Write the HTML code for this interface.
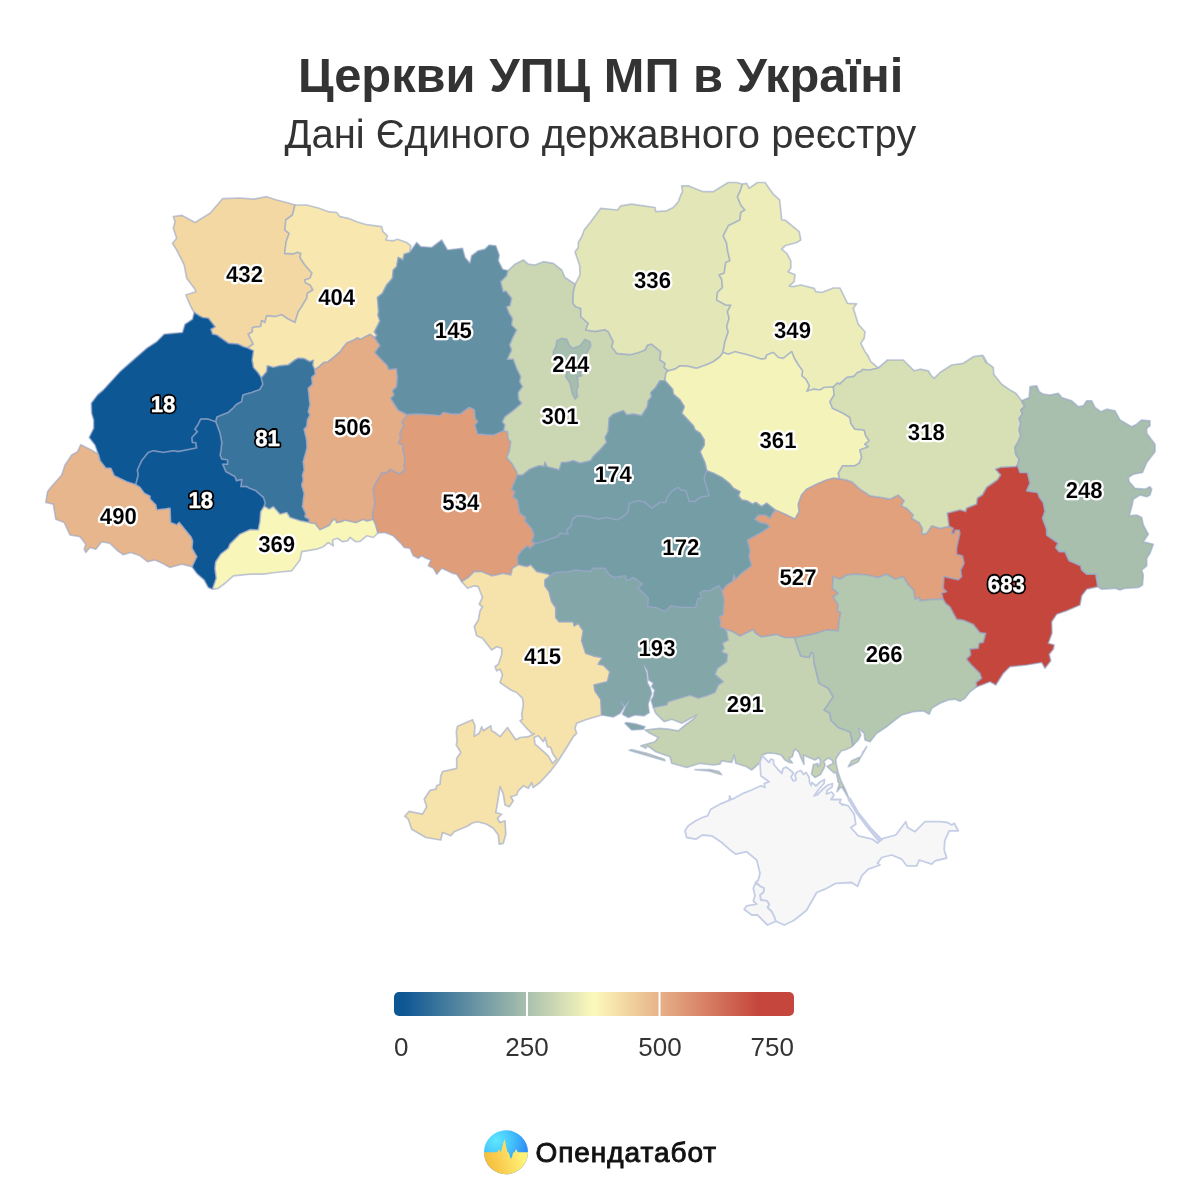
<!DOCTYPE html>
<html lang="uk"><head><meta charset="utf-8"><title>Церкви УПЦ МП в Україні</title>
<style>
html,body{margin:0;padding:0;background:#fff}
body{width:1200px;height:1200px;position:relative;overflow:hidden;font-family:"Liberation Sans",Arial,sans-serif;color:#333}
.t1{font:700 48.8px "Liberation Sans",Arial,sans-serif;fill:#333;text-anchor:middle}
.t2{font:400 40px "Liberation Sans",Arial,sans-serif;fill:#333;text-anchor:middle}
svg{position:absolute;left:0;top:0}
.rg path{stroke:#96a5c8;stroke-opacity:.6;stroke-width:1.7;stroke-linejoin:round}
.cr path{fill:#f7f7f8;stroke:#c5cee6;stroke-width:1.8;stroke-linejoin:round}
.lh,.lb{font:700 23px "Liberation Sans",Arial,sans-serif;text-rendering:geometricPrecision;text-anchor:middle;stroke-linejoin:round}
.lh{fill:#fff;stroke:#fff;stroke-width:4.5px}
.lh.w{fill:#000;stroke:#000;stroke-width:4.2px}
.lb{fill:#000;stroke:#fff;stroke-width:.1px}
.lb.w{fill:#fff;stroke:#fff;stroke-width:.4px}
.lg text{font:400 26px "Liberation Sans",Arial,sans-serif;fill:#333}
.brand{font:400 28px "Liberation Sans",Arial,sans-serif;fill:#111;stroke:#111;stroke-width:.9px;letter-spacing:.95px}
</style></head><body>
<svg width="1200" height="1200" viewBox="0 0 1200 1200">
<defs>
<linearGradient id="g" x1="0" x2="1" y1="0" y2="0">
<stop offset="0" stop-color="#0e5795"/><stop offset="0.024" stop-color="#0e5795"/><stop offset="0.5" stop-color="#fdf9bb"/><stop offset="0.911" stop-color="#c5463c"/><stop offset="1" stop-color="#c5463c"/>
</linearGradient>
<radialGradient id="lg1" gradientUnits="userSpaceOnUse" cx="496" cy="1140.5" r="32"><stop offset="0" stop-color="#5fe8fe"/><stop offset=".5" stop-color="#45c2fb"/><stop offset="1" stop-color="#2d8df5"/></radialGradient>
<linearGradient id="lg2" gradientUnits="userSpaceOnUse" x1="490" y1="1172" x2="524" y2="1160"><stop offset="0" stop-color="#f6bd3c"/><stop offset=".5" stop-color="#fbd65a"/><stop offset="1" stop-color="#fff278"/></linearGradient>
<clipPath id="cc"><circle cx="506" cy="1152.25" r="22"/></clipPath>
</defs>
<text class="t1" x="600.6" y="92">Церкви УПЦ МП в Україні</text>
<text class="t2" x="600.3" y="147.5">Дані Єдиного державного реєстру</text>
<g class="rg">
<path d="M173.3,216.7L181.7,215.3L195,222.5L210,213.3L215,207.5L222.5,198.7L240,198L253.3,199.2L266.7,196.7L276.7,200L286.7,202.5L295,205L292.5,215L285.8,220L285,230L289.2,233.3L286.2,241.7L284.7,253.3L293.3,253.8L297.5,252.2L300.8,253.3L300,257.5L305,265L312,273L310,278.3L304.7,280L305.8,283L310,284.7L313,290L307.5,293.3L306.7,298.3L301.7,306.7L298.3,311.7L295,322.5L288.3,319.2L281.7,314.7L275,316.7L266.7,315.8L265,322.5L261.7,320.8L260.8,326.3L252.5,327.5L252.5,331.7L248.3,334.2L253.3,344.2L247.5,348L243.3,346.7L238.3,344.2L228.3,343.3L216.7,335L212.5,334.2L210.8,329.2L215,326.7L208.3,318.3L202.5,317.5L199.2,315.8L194.2,312.5L190.8,306.7L185.8,295L195.8,291.7L195,289.2L186.7,278.3L184.2,265L176.7,250L172.5,243.3L176.7,238.3L173.3,228.3L175,221.7Z" fill="#f3d8a3"/>
<path d="M295,205L306.7,205L318.3,208L328.3,211.7L336.7,212.5L340,216.7L348.3,218.3L356.7,221.7L366.7,224.7L381.7,226.7L383,231.7L387.5,235.8L385.8,240L393.3,240.8L397.5,239.2L406.7,242.5L410.8,245.8L409.7,252.5L404.2,254.2L403,260L398.3,257.5L396.7,266.7L393.3,270L392.5,278.3L386.7,285L382.5,293.3L377.5,297.5L378.7,311.7L378,315L380,321L377,327L374.5,332L377,335L375,338L370,334.5L366,336.5L360.5,339.5L357.5,338L354,340L347,343L344,346.5L340,352L333,358L328,362L324,362.5L319,367L314.7,369.7L312.5,365L313.3,360.3L310,361.7L304.2,358.7L298.3,358.3L295,360L288.3,365L280,365.8L273.3,367.5L267.5,365.8L266.7,371.7L261.3,378L258.3,373.3L253.3,367.5L252,360L253.3,350.8L247.5,348L253.3,344.2L248.3,334.2L252.5,331.7L252.5,327.5L260.8,326.3L261.7,320.8L265,322.5L266.7,315.8L275,316.7L281.7,314.7L288.3,319.2L295,322.5L298.3,311.7L301.7,306.7L306.7,298.3L307.5,293.3L313,290L310,284.7L305.8,283L304.7,280L310,278.3L312,273L305,265L300,257.5L300.8,253.3L297.5,252.2L293.3,253.8L284.7,253.3L286.2,241.7L289.2,233.3L285,230L285.8,220L292.5,215Z" fill="#f8e8af"/>
<path d="M194.2,312.5L192.5,319.2L185,324.2L182.5,332.5L173.3,333.3L164.2,334.2L156.7,341.7L146.7,348.3L133.3,360L120,371.7L103.3,390L97.5,395L91.3,403.3L91.7,413.3L93.7,420L93.7,428.3L89.2,437.5L95,445L98.3,454.2L100,460.8L105.8,468.3L110.8,468.3L114.2,475.8L126.7,481.7L135.8,484.7L138.3,475L137.5,470L141.7,460.8L148.3,452.5L153.3,450.8L163.3,452.5L173.3,450.8L178.3,451.7L196.7,448L195.8,442.5L192.5,442.5L192,437.5L197.5,431.7L195,429.2L198.3,424.2L200.8,419.2L208.3,419.2L215.8,422L217,417L228.3,412.5L233,408.3L236.7,404.2L241.7,401.7L243,395L251.7,392.5L259.7,389.7L263,384.2L261.3,378L258.3,373.3L253.3,367.5L252,360L253.3,350.8L247.5,348L243.3,346.7L238.3,344.2L228.3,343.3L216.7,335L212.5,334.2L210.8,329.2L215,326.7L208.3,318.3L202.5,317.5L199.2,315.8Z" fill="#0e5795"/>
<path d="M261.3,378L266.7,371.7L267.5,365.8L273.3,367.5L280,365.8L288.3,365L295,360L298.3,358.3L304.2,358.7L310,361.7L313.3,360.3L312.5,365L314.7,369.7L315.3,374.2L311.7,377.5L312.5,384.2L308.3,388.3L309.2,396.7L310,405L308.3,411.7L310,415L307.5,420L306.7,426.7L304.2,429.2L306.7,440L307,448.3L303.3,461.7L304.2,470L302.5,475L303.3,480L301.7,485L304.2,493.3L302.5,506.7L305.8,513.3L305,516.7L309.2,519.2L309.2,522.5L300,520.8L290,517.5L286.7,512.5L280,514.2L273.3,506.7L269.2,509.2L264.2,506.3L265,502.5L263.3,497.5L255.8,490.8L249.2,488.3L246.7,486.7L240.8,486.7L241.7,479.7L236.3,480.8L235,476.7L225.8,471.7L222.5,464.2L227.5,464.2L227.5,460L221.7,459.2L220,455L220.8,450.8L221.7,442.5L220,433.3L215.8,422L217,417L228.3,412.5L233,408.3L236.7,404.2L241.7,401.7L243,395L251.7,392.5L259.7,389.7L263,384.2Z" fill="#38749c"/>
<path d="M135.8,484.7L138.3,475L137.5,470L141.7,460.8L148.3,452.5L153.3,450.8L163.3,452.5L173.3,450.8L178.3,451.7L196.7,448L195.8,442.5L192.5,442.5L192,437.5L197.5,431.7L195,429.2L198.3,424.2L200.8,419.2L208.3,419.2L215.8,422L220,433.3L221.7,442.5L220.8,450.8L220,455L221.7,459.2L227.5,460L227.5,464.2L222.5,464.2L225.8,471.7L235,476.7L236.3,480.8L241.7,479.7L240.8,486.7L246.7,486.7L249.2,488.3L255.8,490.8L263.3,497.5L265,502.5L264.2,506.3L260.8,511.7L260,521.7L258.3,530L250,529.7L240,534.2L230,544.2L228.3,548.3L220.8,554.2L215.8,561.7L215,568.3L216.3,578.3L212.5,589.2L208.3,587.5L204.2,580L196.7,573.3L192,566.7L196.7,556.7L192,548.3L192.5,540.8L190.8,536.7L186.7,531.7L179.2,522.5L176.7,525L170.5,522.5L170,508.3L156.7,510L155.8,505L150,499.2L150,496.3L144.2,493.3L140,487.5Z" fill="#0e5795"/>
<path d="M98.3,454.2L90,449.2L80.8,444.7L77.5,451.7L71.7,455L65,465L61.7,475L50,488.3L47.5,491.7L45.8,502.5L53.3,504.2L55.8,519.2L64.2,522.5L70,535L80,536.7L85.8,544.2L84.2,549.2L85.8,552.5L90,547.5L95.8,549.2L101.7,541.7L110,543.3L116.7,550L123.3,554.7L130.8,552.5L140,555.8L147.5,561.7L155,560L163.3,563.7L170,567.5L181.7,564.2L192,566.7L196.7,556.7L192,548.3L192.5,540.8L190.8,536.7L186.7,531.7L179.2,522.5L176.7,525L170.5,522.5L170,508.3L156.7,510L155.8,505L150,499.2L150,496.3L144.2,493.3L140,487.5L135.8,484.7L126.7,481.7L114.2,475.8L110.8,468.3L105.8,468.3L100,460.8Z" fill="#e8b68c"/>
<path d="M309.2,522.5L315,523.3L320,529.5L329.2,525.3L332.5,520L335.8,519.2L336.7,522.5L340.8,521.7L345,520L355.8,522.5L363.3,519.2L366.7,520.8L373.3,519.2L375.8,525L378,533L373.3,537.5L366.7,535.8L360,541.3L355.8,541.7L350,537.5L347.5,540.8L342.5,541.7L337.5,538.3L332.5,540L333.3,545.8L328.3,542.5L323.3,546.7L316.7,549.2L301.7,551.7L300,560L291.7,570.8L275,572.5L263.3,574.2L250,574.2L233.3,575.8L225,583.3L218.3,588.3L212.5,589.2L216.3,578.3L215,568.3L215.8,561.7L220.8,554.2L228.3,548.3L230,544.2L240,534.2L250,529.7L258.3,530L260,521.7L260.8,511.7L264.2,506.3L269.2,509.2L273.3,506.7L280,514.2L286.7,512.5L290,517.5L300,520.8Z" fill="#f9f6ba"/>
<path d="M314.7,369.7L319,367L324,362.5L328,362L333,358L340,352L344,346.5L347,343L354,340L357.5,338L360.5,339.5L366,336.5L370,334.5L375,338L380,345.5L375,352.5L381,359L387,365L389,369.5L396.5,368.5L397.5,376.7L396.7,386.7L392.5,390.8L394.2,395L390.8,398.3L395,405L398.3,410L407.5,414.7L401.7,422.5L404.2,425L400,433.3L400.8,438.3L398.7,443.3L403.3,445L403,450L405,457.5L404.2,465L405,470L399.2,474.2L390,469.2L386.7,473.3L382.5,472.5L376.7,481.7L373.3,488.3L375,503.3L372.5,515L373.3,519.2L366.7,520.8L363.3,519.2L355.8,522.5L345,520L340.8,521.7L336.7,522.5L335.8,519.2L332.5,520L329.2,525.3L320,529.5L315,523.3L309.2,522.5L309.2,519.2L305,516.7L305.8,513.3L302.5,506.7L304.2,493.3L301.7,485L303.3,480L302.5,475L304.2,470L303.3,461.7L307,448.3L306.7,440L304.2,429.2L306.7,426.7L307.5,420L310,415L308.3,411.7L310,405L309.2,396.7L308.3,388.3L312.5,384.2L311.7,377.5L315.3,374.2Z" fill="#e5ad85"/>
<path d="M409.7,252.5L416.7,242.5L420.8,246.7L431.7,247.5L441.7,240L447.5,250L462.5,248.3L465,257.5L470,263.3L471.7,255.8L478.3,250.8L485,249.2L489.2,245L495.8,245.8L499.2,255L498.3,260.8L502.5,269.2L508,270.8L506.7,275.8L500.8,281.7L503.3,291.7L505.8,290.8L511.7,298.3L510,305.8L506.7,306.7L509.2,313.3L512.5,318.3L511.7,325L516.7,330L513.3,336.7L509.7,345L511.7,350L507.5,359.2L513.3,359.2L516.7,368.3L520.8,376.7L519.7,381.7L522.5,386.7L518.3,392.5L518.7,399.2L521.7,403.3L515,409.2L505,416.7L502.5,421.7L505,425L503.7,430.8L493.3,435.3L477.5,434.2L474.7,425L477.5,421.7L475,418.3L474.2,409.7L469.2,407.5L460,414.2L451.7,414.2L443.3,412.5L440,415.8L433.3,415L418.3,414.2L407.5,414.7L398.3,410L395,405L390.8,398.3L394.2,395L392.5,390.8L396.7,386.7L397.5,376.7L396.5,368.5L389,369.5L387,365L381,359L375,352.5L380,345.5L375,338L377,335L374.5,332L377,327L380,321L378,315L378.7,311.7L377.5,297.5L382.5,293.3L386.7,285L392.5,278.3L393.3,270L396.7,266.7L398.3,257.5L403,260L404.2,254.2Z" fill="#6391a3"/>
<path d="M407.5,414.7L418.3,414.2L433.3,415L440,415.8L443.3,412.5L451.7,414.2L460,414.2L469.2,407.5L474.2,409.7L475,418.3L477.5,421.7L474.7,425L477.5,434.2L493.3,435.3L503.7,430.8L507.5,431.7L508.3,439.2L510.8,441.7L509.2,451.7L506.7,457.5L511.7,463.3L516.7,471.7L517.5,475.3L511.7,489.2L515,491.7L513.3,496.7L517.5,500L520,513.3L525.8,517.5L525,520.8L531.7,528.3L534.2,535L531.7,541.7L535.8,543L530,548.3L527.5,545.8L521.7,550.8L517.5,556.7L518.3,564.7L512.5,568.3L510.8,575L503.3,573.3L496.7,575L491.7,575.8L481.7,571.7L474.2,571.7L469.2,576.7L461.7,581.7L456.7,574.2L452.5,573.3L441.7,568.3L436.7,574.2L433.3,568.3L428.3,565.8L430.8,560L425.8,558.3L421.7,555.8L418.3,558.3L413.3,555.8L410,548.3L404.2,547.5L400.8,543.3L393.3,535.8L385,532.5L378,533L375.8,525L373.3,519.2L372.5,515L375,503.3L373.3,488.3L376.7,481.7L382.5,472.5L386.7,473.3L390,469.2L399.2,474.2L405,470L404.2,465L405,457.5L403,450L403.3,445L398.7,443.3L400.8,438.3L400,433.3L404.2,425L401.7,422.5Z" fill="#e09d79"/>
<path d="M508,270.8L515,264.2L523.3,260L528.3,264.2L535,265L543.3,261.7L553.3,263.3L561.7,270L565,277.5L575.3,284.2L573.3,292.5L573,303.3L575.8,306.7L580.8,308.3L580.8,316.7L588.3,323.3L585.8,330L595,331.3L605,329.7L608.3,331.7L613.3,341.7L611.7,346.7L616.7,353.3L630,354.7L638.3,352.5L645,350L647.5,345L651.7,344.2L660.8,351.7L660,360L665,363.3L664.2,367.5L668.3,370.8L665.8,373.3L665,380.8L660,380.8L655.8,387.5L650.8,392.5L651.7,396.7L648.3,400.8L647.5,406.7L641.7,415.8L633.3,414.2L626.7,415L623.3,410.8L613.3,414.2L609.2,418.3L608.3,431.7L605.3,437.5L606.7,442.5L600,450L593.3,456.7L590.8,460.8L580,463.3L573.3,460.8L566.7,462.5L561.7,462.5L559.2,470L546.7,466.7L545,462.5L544.2,466.7L539.2,465.8L530,469.2L522.5,475.3L517.5,475.3L516.7,471.7L511.7,463.3L506.7,457.5L509.2,451.7L510.8,441.7L508.3,439.2L507.5,431.7L503.7,430.8L505,425L502.5,421.7L505,416.7L515,409.2L521.7,403.3L518.7,399.2L518.3,392.5L522.5,386.7L519.7,381.7L520.8,376.7L516.7,368.3L513.3,359.2L507.5,359.2L511.7,350L509.7,345L513.3,336.7L516.7,330L511.7,325L512.5,318.3L509.2,313.3L506.7,306.7L510,305.8L511.7,298.3L505.8,290.8L503.3,291.7L500.8,281.7L506.7,275.8Z" fill="#cbd7b3"/>
<path d="M556.7,340.8L561.7,338.3L566.7,339.2L569.2,345L572.5,348.3L580,345.8L585,339.2L590,341.7L590.8,345.8L586.7,353.3L583.3,361.7L582.5,368.3L580,373.3L581.7,375.8L577.5,376.7L578.3,386.7L576.7,390L577.5,396.7L575,399.2L572.5,394.2L570,383.3L565.8,376.7L566.7,373.3L560,368.3L553.3,356.7L553.3,351.7L555.8,346.7Z" fill="#a5bead"/>
<path d="M575.3,284.2L580,275L579.7,265.8L575,251.7L578.3,247.5L578.3,242.5L581.7,236.7L584.2,230L590.8,221.7L595.8,215L600.8,208.3L617.5,210L620.8,205.8L631.7,204.2L643.3,205.8L655,207.5L655.8,211.7L666.7,210.8L673.3,207.5L678.3,201.7L680.8,195L682.5,191.7L681.7,185.8L688.3,185.8L696.7,189.2L703.3,191.7L713.3,191.7L720,187.5L728.3,182.5L736.7,182.5L742.5,184.2L740,191.7L737.5,196.7L740.8,205L745,210L740.8,212.5L740,220L728.3,225.8L723.3,235.8L726.7,243.3L727.5,250L730,260.8L725.8,262.5L724.2,273.3L719.2,275L721.7,279.2L722.5,287.5L717.5,292.5L716.7,300L725.8,305L730.8,305L727.5,311.7L729.2,318.3L726.7,326.7L728.3,331.7L725,341.7L723,352.5L720,356.7L713.3,361.7L706.7,364.7L696.7,368.3L688.3,366.3L680,365.8L675,369.2L668.3,370.8L664.2,367.5L665,363.3L660,360L660.8,351.7L651.7,344.2L647.5,345L645,350L638.3,352.5L630,354.7L616.7,353.3L611.7,346.7L613.3,341.7L608.3,331.7L605,329.7L595,331.3L585.8,330L588.3,323.3L580.8,316.7L580.8,308.3L575.8,306.7L573,303.3L573.3,292.5Z" fill="#e3e7b7"/>
<path d="M742.5,184.2L746.7,183.3L749.2,188.3L757.5,182.5L765,182.5L773.3,194.2L779.7,200L781.7,220L785,220L799.2,231.7L800.8,240L796.7,242.5L785,245.8L781.7,249.2L786.7,253.3L790.8,260.8L790.8,268.3L788,271.7L795,274.7L794.2,281.7L789.2,285.8L793.3,286.7L800.8,285L814.2,288.3L815.8,291.7L821.7,292.5L833.3,288L840,288L844.2,296.7L847.5,303.3L856.7,303.8L853.3,308.3L858.3,324.2L865,331.7L864.2,338.3L860.8,343.3L865,351.7L867.5,355L870.8,361.7L878.3,368L870,370L862.5,369.5L860.8,371.7L857.5,372.5L854.2,376.3L846.7,377.5L839.7,384.2L837.5,383L833.3,387L824.2,387.5L820,390L813.3,389.2L806.7,391.3L809.2,385.8L805.8,379.2L801.7,375.8L802.5,370.8L798.3,365L794.2,358.3L791.7,351.7L783.3,358.3L778.3,357.5L773.3,352.5L766.7,355L765.8,358.3L761.7,359.2L748.3,355L735,351.7L728.3,354.2L723,352.5L725,341.7L728.3,331.7L726.7,326.7L729.2,318.3L727.5,311.7L730.8,305L725.8,305L716.7,300L717.5,292.5L722.5,287.5L721.7,279.2L719.2,275L724.2,273.3L725.8,262.5L730,260.8L727.5,250L726.7,243.3L723.3,235.8L728.3,225.8L740,220L740.8,212.5L745,210L740.8,205L737.5,196.7L740,191.7Z" fill="#ecedb8"/>
<path d="M723,352.5L728.3,354.2L735,351.7L748.3,355L761.7,359.2L765.8,358.3L766.7,355L773.3,352.5L778.3,357.5L783.3,358.3L791.7,351.7L794.2,358.3L798.3,365L802.5,370.8L801.7,375.8L805.8,379.2L809.2,385.8L806.7,391.3L813.3,389.2L820,390L824.2,387.5L833.3,387L834.2,395L830,401.7L832.5,408.3L843.3,413.3L850,417.5L850.8,423.3L855,429.2L864.2,430L865.8,435.8L869.2,440.8L865,444.2L868.3,446.7L860,450L861.7,457.5L859.2,463.3L855,465.8L842.5,465.8L838.3,473.3L839.7,478.8L833.3,478.3L826.7,480L816.7,484.2L806.7,489.2L801.7,495L798.3,504.2L799.2,511.7L795,519.2L785,514.2L775,510L766.7,503.3L761.7,506.7L755.8,502.5L752.5,504.2L746.7,500.8L741.7,500L738.3,495.8L740,491.7L733.3,488.3L729.2,483.3L721.7,477.5L713.3,473.3L706.7,470.8L705,463.3L700,451.7L704.2,445L704.2,440L700,433.3L695,430L693.3,425.8L681.7,413.3L684.2,406.7L680,400L673.3,394.2L672.5,389.2L665,380.8L665.8,373.3L668.3,370.8L675,369.2L680,365.8L688.3,366.3L696.7,368.3L706.7,364.7L713.3,361.7L720,356.7Z" fill="#f4f3ba"/>
<path d="M665,380.8L660,380.8L655.8,387.5L650.8,392.5L651.7,396.7L648.3,400.8L647.5,406.7L641.7,415.8L633.3,414.2L626.7,415L623.3,410.8L613.3,414.2L609.2,418.3L608.3,431.7L605.3,437.5L606.7,442.5L600,450L593.3,456.7L590.8,460.8L580,463.3L573.3,460.8L566.7,462.5L561.7,462.5L559.2,470L546.7,466.7L545,462.5L544.2,466.7L539.2,465.8L530,469.2L522.5,475.3L517.5,475.3L511.7,489.2L515,491.7L513.3,496.7L517.5,500L520,513.3L525.8,517.5L525,520.8L531.7,528.3L534.2,535L531.7,541.7L535.8,543L537.5,543.3L545,540.8L557.5,536.7L560,533.3L568.3,534.2L566.7,530L570.8,526.7L572.5,519.2L577.5,515.8L588.3,516.7L598.3,519.2L606.7,517.5L616.7,520L623.3,516.7L628.3,511.7L629.2,503.3L638.3,500.8L645,502.5L651.7,508.3L660,502.5L665.8,502.5L667.5,496.7L672.5,490.8L678.3,487.5L680.8,490L685.8,490.8L689.2,501.7L695,501.7L700,497.5L709.2,495.8L706.7,486.7L704.2,478.3L706.7,470.8L705,463.3L700,451.7L704.2,445L704.2,440L700,433.3L695,430L693.3,425.8L681.7,413.3L684.2,406.7L680,400L673.3,394.2L672.5,389.2Z" fill="#769ea6"/>
<path d="M706.7,470.8L704.2,478.3L706.7,486.7L709.2,495.8L700,497.5L695,501.7L689.2,501.7L685.8,490.8L680.8,490L678.3,487.5L672.5,490.8L667.5,496.7L665.8,502.5L660,502.5L651.7,508.3L645,502.5L638.3,500.8L629.2,503.3L628.3,511.7L623.3,516.7L616.7,520L606.7,517.5L598.3,519.2L588.3,516.7L577.5,515.8L572.5,519.2L570.8,526.7L566.7,530L568.3,534.2L560,533.3L557.5,536.7L545,540.8L537.5,543.3L535.8,543L530,548.3L527.5,545.8L521.7,550.8L517.5,556.7L518.3,564.7L526.7,566.7L530.8,565L536.7,571.7L548.3,574.2L550,576.3L555,572.5L570,571.7L575,570L590,571.7L593.3,568.3L605,568.3L609.2,575L615,577.5L625,575.8L626.7,580.8L633.3,577.5L642.5,584.2L637.5,587.5L644.2,594.2L648.3,598.3L647.5,606.7L655.8,607.5L665,611.7L670.8,605.8L681.7,607.5L695.8,607.5L697,601.7L698.3,598.3L701.7,598.3L700,593.3L703.3,590.8L710,590.8L716.7,586.7L719.2,585.8L722,591.3L726.7,585L732.5,581.7L734.2,575L735,580L741.7,573.3L751.7,565.8L749.2,557.5L750,550L747.5,540L760,533.3L770,526.7L766.7,523.7L760,522.5L755,519.2L758.3,515.3L765,515L770,518.3L775,510L766.7,503.3L761.7,506.7L755.8,502.5L752.5,504.2L746.7,500.8L741.7,500L738.3,495.8L740,491.7L733.3,488.3L729.2,483.3L721.7,477.5L713.3,473.3Z" fill="#759da5"/>
<path d="M518.3,564.7L526.7,566.7L530.8,565L536.7,571.7L548.3,574.2L550,576.3L545,580L545,585.8L549.2,591.7L551.7,601.7L555.8,607.5L555.8,617.5L559.2,621.7L573.3,621.7L574.2,625.8L578.3,623.3L583.3,630.8L581.7,640.8L585.8,653.3L593.3,655.8L602.5,657.5L598.3,664.2L603.3,665L610,671.7L607.5,681.7L594.2,685L595,690.8L600.8,699.2L601.7,715L593.3,717.5L585,720L576.7,723.3L575,728.3L576.7,733.3L573.3,736.7L566.7,747.5L558.3,760.8L550,771.7L540,782.5L533,787.5L531.7,782.5L528.3,788.3L523.3,785.8L518.3,790.8L516.7,795L510.8,796.7L513.3,800.8L509.2,806.7L505,805L503.3,794.2L500,786.7L497.5,803.3L495.8,812.5L501.7,814.2L497.5,818.3L500,822.5L505,820.8L505.8,834.2L503.3,843.3L499.2,844.2L498.3,835L493.3,828.3L486.7,824.2L477.5,821.7L471.7,823.3L468.3,825.8L454.2,831.7L450.8,835.8L442.5,832.5L440.8,840L425.8,837.5L411.7,829.2L408.3,819.2L404.7,816.2L409.2,811.3L422.5,814.2L426.7,806.7L424.2,799.2L430,790.3L435.8,789.2L436.7,785.8L440,784.2L440.8,775.8L442.5,771.7L456.7,768.3L456.7,758.3L460.8,752.5L456.3,745L457,740.8L456.3,731.7L457.5,726.3L472.5,719.7L475,725.8L474.2,736.3L479.2,733.3L481.7,726.7L483.3,730.8L490.8,725.8L491.7,730.8L495,732.5L500,736.7L507.5,727.5L515.8,739.7L520,737.5L528.3,736.7L534.2,733.7L531.7,733.3L526.7,728.3L520,720.8L522.5,719.2L521.7,715L523.3,704.2L522.5,698.3L516.7,692.5L510.8,690L500,682.5L502.5,675L500,669.2L496.7,670.8L495,666.7L498.3,664.2L501.7,654.2L501.7,648.3L496.7,646.7L491.7,650L482.5,638.3L476.7,635.8L474.2,626.7L478.3,620L480,610.8L482.5,606.7L479.2,604.2L482.5,597.5L478.3,586.7L474.2,585.8L467.5,588.3L461.7,581.7L469.2,576.7L474.2,571.7L481.7,571.7L491.7,575.8L496.7,575L503.3,573.3L510.8,575L512.5,568.3Z" fill="#f6e2ab"/>
<path d="M550,576.3L555,572.5L570,571.7L575,570L590,571.7L593.3,568.3L605,568.3L609.2,575L615,577.5L625,575.8L626.7,580.8L633.3,577.5L642.5,584.2L637.5,587.5L644.2,594.2L648.3,598.3L647.5,606.7L655.8,607.5L665,611.7L670.8,605.8L681.7,607.5L695.8,607.5L697,601.7L698.3,598.3L701.7,598.3L700,593.3L703.3,590.8L710,590.8L716.7,586.7L719.2,585.8L722,591.3L724.2,600L723.3,615L719.2,616.7L720.8,621.7L720,626.7L724.7,628.8L726.7,631.7L728.3,640L722.5,643.3L724.2,648.3L721.7,651.7L727.5,654.2L726.7,661.7L717.5,668.3L715,674.2L723.3,681.7L718.3,685L715,692.5L706.7,695.8L698.3,698.3L690,695.3L680,698.3L668.3,701.7L666.7,705L653.3,707.5L651.2,700.3L653.3,696.7L654.7,690L651.7,686.7L653.3,683L648.7,680L647.5,670.8L643.7,665L646.7,673.3L647.5,683.3L650,687.5L651.7,693.3L648,704.2L649.2,712.5L644.2,715.8L635,715L628.3,717.5L622.5,714.2L625.8,706.7L629.7,700.3L625,706.7L620.5,701.3L624.2,706.7L620,713.3L613.3,717L601.7,715L600.8,699.2L595,690.8L594.2,685L607.5,681.7L610,671.7L603.3,665L598.3,664.2L602.5,657.5L593.3,655.8L585.8,653.3L581.7,640.8L583.3,630.8L578.3,623.3L574.2,625.8L573.3,621.7L559.2,621.7L555.8,617.5L555.8,607.5L551.7,601.7L549.2,591.7L545,585.8L545,580Z" fill="#83a6a8"/>
<path d="M724.7,628.8L733.3,631.7L740,635.8L753.3,629.2L755.8,633.3L761.7,636.7L776.7,634.2L785,637.5L794.7,637.5L797.5,646.7L800.8,655.8L809.2,657.5L810.8,652.5L813.3,653.3L814.2,663.3L816.7,673.3L819.2,683.3L828.3,688.3L833.3,696.7L830,701.7L824.2,710L830,713.3L830.8,720L838.3,727.5L850,731.7L851.7,738.3L853,745.5L851.5,747L845,750L841,751L835.8,759L836,763L838,772L841,781L845.5,790L849,799L842,787L840,788L837,791.5L839.5,783.5L838,782L837.5,778L836,772L834,773L827,766.5L833,763.5L832.5,760.5L828.5,758L824,761L825,765L824,768L820.5,774.5L815,777.5L811.5,774L813.5,764.5L818,763.5L817.5,766.5L820,765L820.5,761L819,757.5L815,760L808,757L803.5,755L804,764.5L801,758L799,752.5L795.5,749L793.5,752L792.5,756.5L789,758.5L792.5,763L789.5,762.5L785,760L781,755L775,753.5L768,753L762,755L760,762.5L751.7,770L746.7,766.7L735.8,763.3L734.2,755L731.7,762.5L721.7,760.8L720,764.2L713.3,765L700,763.3L686.7,767.5L671.7,763.3L670,756.7L655.8,751.7L647.5,745.8L645.8,748.3L640.8,745.8L655,741.7L658.3,737.5L650,733.3L645,730L660,728.3L668.3,729.2L678.3,730.8L684.2,725.8L693.3,719.2L696.7,715L681.7,723.3L671.7,719.2L664.2,721.7L655.8,713.3L653.3,707.5L666.7,705L668.3,701.7L680,698.3L690,695.3L698.3,698.3L706.7,695.8L715,692.5L718.3,685L723.3,681.7L715,674.2L717.5,668.3L726.7,661.7L727.5,654.2L721.7,651.7L724.2,648.3L722.5,643.3L728.3,640L726.7,631.7Z" fill="#c5d3b2"/>
<path d="M775,510L785,514.2L795,519.2L799.2,511.7L798.3,504.2L801.7,495L806.7,489.2L816.7,484.2L826.7,480L833.3,478.3L839.7,478.8L846.7,480L851.7,481.7L860,489.2L870,495.8L881.7,497.5L890,499.2L898.3,495L904.2,500.8L901.3,505.8L906.7,508.3L913.3,515L911.7,518.3L919.2,522.5L922.5,528.3L921.7,534.2L926.7,533.3L931.7,525.8L940,528.3L949.2,526.3L953.3,528.3L951.7,533.3L954.2,533.3L955,530L959.2,530L960,533.3L956.7,548.3L956.7,554.2L962.5,555.8L964.2,563.3L960.8,570L961.7,576.7L958.3,580L944.2,576.7L943.3,588.3L946.7,591.7L941.7,593.3L943.3,599.2L930,599.7L920,600.8L919.2,597.5L915,599.2L913.3,590L908.3,585L903.3,576.7L895,579.2L886.7,574.2L878.3,577.5L866.7,575L856.7,574.2L846.7,575L840,579.2L833.3,576.7L832.5,588.3L838.3,593.3L833.3,596.7L838.3,605L837.5,610.8L840.8,612.5L839.2,620L838.3,630.8L826.7,630L813.3,634.2L796.7,637.5L794.7,637.5L785,637.5L776.7,634.2L761.7,636.7L755.8,633.3L753.3,629.2L740,635.8L733.3,631.7L724.7,628.8L720,626.7L720.8,621.7L719.2,616.7L723.3,615L724.2,600L722,591.3L726.7,585L732.5,581.7L734.2,575L735,580L741.7,573.3L751.7,565.8L749.2,557.5L750,550L747.5,540L760,533.3L770,526.7L766.7,523.7L760,522.5L755,519.2L758.3,515.3L765,515L770,518.3Z" fill="#e1a17c"/>
<path d="M794.7,637.5L796.7,637.5L813.3,634.2L826.7,630L838.3,630.8L839.2,620L840.8,612.5L837.5,610.8L838.3,605L833.3,596.7L838.3,593.3L832.5,588.3L833.3,576.7L840,579.2L846.7,575L856.7,574.2L866.7,575L878.3,577.5L886.7,574.2L895,579.2L903.3,576.7L908.3,585L913.3,590L915,599.2L919.2,597.5L920,600.8L930,599.7L943.3,599.2L945.8,603.3L950,606.7L956.7,619.2L963.3,620L973.3,624.2L980,632.5L985.8,633.3L983.3,642.5L979.2,643.3L978.3,648.3L970,649.2L970.8,655L966.7,659.2L971.7,665L980,673.3L981.7,678.3L976.3,682.5L976.7,686.7L970,691.7L965,698.3L960,701.3L955,699.2L948.3,700L940,703.3L931.7,708.3L929.2,714.2L923.3,710.8L913.3,711.7L901.7,715L895,720L886.7,726.7L876.7,733.3L870,741.7L865,740L864.2,733.3L858.7,728.3L860.8,735L858.3,740L853,745.5L851.7,738.3L850,731.7L838.3,727.5L830.8,720L830,713.3L824.2,710L830,701.7L833.3,696.7L828.3,688.3L819.2,683.3L816.7,673.3L814.2,663.3L813.3,653.3L810.8,652.5L809.2,657.5L800.8,655.8L797.5,646.7Z" fill="#b4c8af"/>
<path d="M878.3,368L887.5,360L903.3,360L908.3,365L914.2,370.8L920,369.2L928.3,370.8L930.8,375L934.2,378.3L940,372.5L951.7,365L963.3,363.3L973.3,356.7L982.5,355.3L985.8,362.5L983.3,355.8L987.5,363.3L993.3,367.5L993.7,374.2L1001.7,384.2L1010,390L1015.8,393.3L1021.7,400.8L1024.7,406.7L1020.8,410L1022.5,414.2L1019.2,418.3L1020.8,423.3L1019.2,430L1020.8,435.8L1018.3,441.7L1015,447.5L1015.8,454.2L1019.2,459.2L1017.5,465.3L1015.8,466.7L1000.8,467.5L995.8,469.2L1000.8,475L997.5,480L986.7,487.5L982.5,495L977.5,498.3L976.7,504.2L966.7,508.3L965.8,511.7L960,510L947.5,513.3L949.2,526.3L940,528.3L931.7,525.8L926.7,533.3L921.7,534.2L922.5,528.3L919.2,522.5L911.7,518.3L913.3,515L906.7,508.3L901.3,505.8L904.2,500.8L898.3,495L890,499.2L881.7,497.5L870,495.8L860,489.2L851.7,481.7L846.7,480L839.7,478.8L838.3,473.3L842.5,465.8L855,465.8L859.2,463.3L861.7,457.5L860,450L868.3,446.7L865,444.2L869.2,440.8L865.8,435.8L864.2,430L855,429.2L850.8,423.3L850,417.5L843.3,413.3L832.5,408.3L830,401.7L834.2,395L833.3,387L837.5,383L839.7,384.2L846.7,377.5L854.2,376.3L857.5,372.5L860.8,371.7L862.5,369.5L870,370Z" fill="#d7dfb5"/>
<path d="M1017.5,465.3L1020,472.5L1027.5,472.5L1030,483.3L1026.7,490.8L1037.5,492.5L1040,498.3L1043.3,502.5L1045,511.7L1045,511.3L1042.5,518.3L1046.7,529.2L1046.7,535L1058.3,543.3L1055.8,547.5L1059.2,551.7L1065,551.7L1069.2,560.8L1080.8,565.8L1081.7,570L1086.7,574.2L1095.8,574.2L1097.8,586.7L1086.7,589.2L1081.7,595.8L1080,605L1066.7,610.8L1056.7,614.2L1051.7,621.7L1052,633.3L1048.3,643.3L1054.2,645L1053.3,649.2L1049.2,654.2L1050.8,660.8L1045,668.3L1041.7,662.5L1026.7,665L1010,666.7L1003.3,673.3L995.8,685L990,681.7L981.7,685L976.7,686.7L976.3,682.5L981.7,678.3L980,673.3L971.7,665L966.7,659.2L970.8,655L970,649.2L978.3,648.3L979.2,643.3L983.3,642.5L985.8,633.3L980,632.5L973.3,624.2L963.3,620L956.7,619.2L950,606.7L945.8,603.3L943.3,599.2L941.7,593.3L946.7,591.7L943.3,588.3L944.2,576.7L958.3,580L961.7,576.7L960.8,570L964.2,563.3L962.5,555.8L956.7,554.2L956.7,548.3L960,533.3L959.2,530L955,530L954.2,533.3L951.7,533.3L953.3,528.3L949.2,526.3L947.5,513.3L960,510L965.8,511.7L966.7,508.3L976.7,504.2L977.5,498.3L982.5,495L986.7,487.5L997.5,480L1000.8,475L995.8,469.2L1000.8,467.5L1015.8,466.7Z" fill="#c5463c"/>
<path d="M1021.7,400.8L1029.2,397.5L1030,386.7L1036.7,385.8L1039.2,391.7L1043.3,394.2L1050,395L1058.3,393.3L1061.7,397.5L1071.7,400.8L1078.3,406.7L1083.3,405.8L1086.7,400.8L1091.7,400.8L1095,407.5L1100.8,411.7L1106.7,409.2L1115,410.8L1120,420L1131.7,426.7L1136.7,424.2L1141.7,420L1150,420.8L1150,425.8L1146.7,428.3L1146.7,433.3L1155,444.2L1155,451.7L1146.7,462.5L1142.5,472.5L1133.3,474.2L1128.3,477.5L1129.2,481.7L1135,488.3L1145,489.2L1150,486.7L1151.7,489.2L1150,495L1146.7,496.7L1140,495L1133.3,499.2L1131.7,506.7L1129.2,515.8L1136.7,515L1141.7,517.5L1143.3,525L1148.3,534.2L1143.3,541.7L1153.3,544.2L1150,553.3L1146.7,558.3L1146.7,565.8L1141.7,570L1143.3,575L1142.5,585L1138.3,587.5L1125,588.3L1120,590L1115,588.3L1101.7,589.2L1097.8,586.7L1095.8,574.2L1086.7,574.2L1081.7,570L1080.8,565.8L1069.2,560.8L1065,551.7L1059.2,551.7L1055.8,547.5L1058.3,543.3L1046.7,535L1046.7,529.2L1042.5,518.3L1045,511.3L1045,511.7L1043.3,502.5L1040,498.3L1037.5,492.5L1026.7,490.8L1030,483.3L1027.5,472.5L1020,472.5L1017.5,465.3L1019.2,459.2L1015.8,454.2L1015,447.5L1018.3,441.7L1020.8,435.8L1019.2,430L1020.8,423.3L1019.2,418.3L1022.5,414.2L1020.8,410L1024.7,406.7Z" fill="#a8bfad"/>
<path d="M625,723.3L631.7,730L643.3,729.2L645,726.7L636.7,724.2L626.7,722.5Z" fill="#83a6a8"/>
<path d="M629.2,750.3L645,755L665,760.8L664.2,759.2L646.7,753.3L631.7,749.7Z" fill="#c5d3b2"/>
<path d="M695,769.7L708.3,770.8L721.7,774.7L719.2,771.7L710,769.7Z" fill="#c5d3b2"/>
<path d="M848.3,766.7L851.7,760.8L860.8,756.7L866.7,746.7L863.3,751.7L858.3,761.7L851.7,765Z" fill="#c5d3b2"/>
<path d="M534.2,737.5L538.3,735.8L543.3,741.7L545,737.5L547.5,746.7L550.8,747.5L552.5,753.3L556.7,759.2L552.5,763.3L548.3,755.8L540,748.3L535,744.2Z" fill="#fff"/>
</g>
<g class="cr">
<path d="M760,762.5L760.8,775.8L769.2,781.7L764.2,783.7L765,787.5L760.8,785.8L751.7,790L743.3,793.3L734.2,798.3L730.8,799.7L729.7,795.8L729.2,800.3L720,804.2L710.8,809.2L707.5,815.8L702.5,817.5L695.8,820.8L688.3,825.8L685,830.8L686.7,837.5L695.8,839.2L702.5,835L711.7,835.8L721.7,842.5L729.2,849.2L735.8,854.2L746.7,851.7L756.7,860L760,873.3L758.3,880L755.8,882.5L760.8,886.7L764.2,888.3L763.3,892.5L760,895L760.8,900L766.7,900.8L769.2,904.2L767.5,907.5L771.7,911.7L774.2,916.7L775.8,921.3L784.2,925L793.3,920.8L801.7,914.2L806.7,910L816.7,892.5L825,889.2L835.8,883.3L851.7,882.5L857.5,886.3L861.7,875.8L868.3,869.2L880,865L877.5,863.3L881.7,857.5L891.7,855L901.7,859.2L906.7,865.8L916.7,865.8L919.2,860L931.7,864.2L935,860.8L946.7,858L944.2,850L944.7,840.8L949.2,830.8L958.3,830.8L954.2,823.3L951.7,825L947.5,822.5L940,821.7L925,821.7L915,831.7L907.5,827.5L905.8,821.7L895.8,835L883.3,838.3L877.5,843L872.5,839.2L858.3,835.8L850.8,827.5L855.8,824.2L854.2,814.2L848.3,805.8L842.5,804.2L842.5,805L839.5,802.5L841,799.5L837,799.5L831,799.5L834,795L831.5,792L826.5,794L827,790.5L832,787L832.5,783.5L828,785L823,789L817,795L814,796L819,789L824,783.5L824.5,779.5L820,782L816,786L812,782.5L811,785.5L809.5,782L809,777L806,772.5L803.5,774.5L801,770.5L797,772L795,775L796,780L793.5,781L791,777L793.5,773L790,770L786,767L783,768.5L782,773.5L778,769.5L773.5,764L773.5,760L771,759L769,762.5L764.5,758L762.5,755.5Z"/>
<path d="M755.8,882.5L753.3,888.3L755,895.8L753.3,900.8L756.7,904.2L746.7,905.8L744.2,909.2L751.7,915L757.5,915L767.5,925L775.8,921.3L774.2,916.7L771.7,911.7L767.5,907.5L769.2,904.2L766.7,900.8L760.8,900L760,895L763.3,892.5L764.2,888.3L760.8,886.7Z"/>
<path d="M848.3,799.2L856.7,813.3L870,830.8L878.3,840.8L881.7,839.7L871.7,829.2L858.3,812.5L850,798.3Z" style="fill:#cbd3ea"/>
</g>
<g class="lh"><use href="#n0"/><use href="#n1"/><use href="#n3"/><use href="#n6"/><use href="#n7"/><use href="#n8"/><use href="#n9"/><use href="#n10"/><use href="#n11"/><use href="#n12"/><use href="#n13"/><use href="#n14"/><use href="#n15"/><use href="#n16"/><use href="#n18"/><use href="#n19"/><use href="#n20"/><use href="#n21"/><use href="#n22"/><use href="#n23"/><use href="#n24"/></g>
<g class="lh w"><use href="#n2"/><use href="#n4"/><use href="#n5"/><use href="#n17"/></g>
<g class="lb">
<text id="n0" transform="translate(244.5 281.9) scale(.965 1)">432</text>
<text id="n1" transform="translate(336.7 305.4) scale(.965 1)">404</text>
<text id="n3" transform="translate(118.3 524.2) scale(.965 1)">490</text>
<text id="n6" transform="translate(352.5 435.4) scale(.965 1)">506</text>
<text id="n7" transform="translate(276.7 552.1) scale(.965 1)">369</text>
<text id="n8" transform="translate(453.3 337.9) scale(.965 1)">145</text>
<text id="n9" transform="translate(460.8 509.9) scale(.965 1)">534</text>
<text id="n10" transform="translate(570.8 372.1) scale(.965 1)">244</text>
<text id="n11" transform="translate(560 423.7) scale(.965 1)">301</text>
<text id="n12" transform="translate(652.5 287.9) scale(.965 1)">336</text>
<text id="n13" transform="translate(792.5 337.9) scale(.965 1)">349</text>
<text id="n14" transform="translate(778 447.9) scale(.965 1)">361</text>
<text id="n15" transform="translate(926.3 439.6) scale(.965 1)">318</text>
<text id="n16" transform="translate(1084.2 497.9) scale(.965 1)">248</text>
<text id="n18" transform="translate(798 585.4) scale(.965 1)">527</text>
<text id="n19" transform="translate(680.8 554.6) scale(.965 1)">172</text>
<text id="n20" transform="translate(613.3 482.1) scale(.965 1)">174</text>
<text id="n21" transform="translate(657 655.9) scale(.965 1)">193</text>
<text id="n22" transform="translate(542.5 663.7) scale(.965 1)">415</text>
<text id="n23" transform="translate(745.3 711.6) scale(.965 1)">291</text>
<text id="n24" transform="translate(884.2 662.1) scale(.965 1)">266</text>
</g>
<g class="lb w">
<text id="n2" transform="translate(163 412.1) scale(.965 1)">18</text>
<text id="n4" transform="translate(200.8 507.9) scale(.965 1)">18</text>
<text id="n5" transform="translate(267.5 445.9) scale(.965 1)">81</text>
<text id="n17" transform="translate(1006.3 591.7) scale(.965 1)">683</text>
</g>
<g class="lg">
<rect x="394" y="992" width="400" height="24" rx="5" fill="url(#g)"/>
<rect x="526" y="991" width="2" height="26" fill="#fff"/><rect x="658.5" y="991" width="2" height="26" fill="#fff"/>
<text x="394" y="1056">0</text><text x="527" y="1056" text-anchor="middle">250</text><text x="660" y="1056" text-anchor="middle">500</text><text x="794" y="1056" text-anchor="end">750</text>
</g>
<g clip-path="url(#cc)">
<rect x="483" y="1129" width="46" height="46" fill="url(#lg1)"/>
<path d="M483,1152.25L497.25,1152.25L498.4,1150L499.4,1149.6L500,1151.5L500.5,1152.4L502,1148L503.25,1143L504.4,1139.25L505.25,1142L506.25,1147L507.25,1151.5L508.5,1152.5L509.25,1154L510,1157L511,1158.75L512,1157L512.75,1154L513.25,1152.5L514.75,1152.25L515.5,1150L516.5,1149.4L517.25,1151.5L518,1152.25L529,1152.25L529,1176L483,1176Z" fill="url(#lg2)"/>
</g>
<text class="brand" x="535.5" y="1161.5">Опендатабот</text>
</svg>
</body></html>
